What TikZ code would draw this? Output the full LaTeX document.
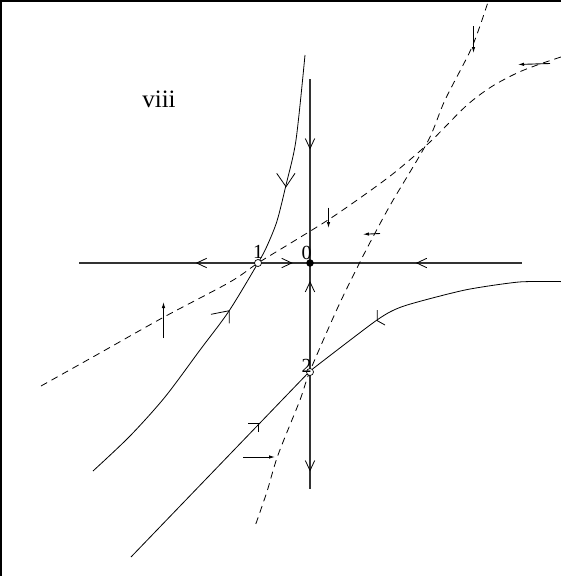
\documentclass[tikz,border=0pt]{standalone}
\usepackage{fontspec}
\setmainfont{Liberation Serif}
\usetikzlibrary{arrows.meta}
\begin{document}
\begin{tikzpicture}[x=1pt,y=-1pt,
  axis/.style={line width=1.1pt, black!80},
  traj/.style={line width=0.8pt},
  iso/.style={line width=0.8pt, dash pattern=on 7pt off 5pt},
  barb/.style={line width=0.8pt},
  flow/.style={line width=0.9pt, -{Latex[length=6pt,width=3.5pt]}},
  lab/.style={inner sep=0pt, anchor=base, font=\fontsize{20}{20}\selectfont},
  openpt/.style={circle, draw, fill=white, line width=0.7pt, minimum size=7pt, inner sep=0pt},
  fullpt/.style={circle, fill=black, minimum size=7.5pt, inner sep=0pt}]
\useasboundingbox (0,0) rectangle (561,576);
\fill[white] (0,0) rectangle (561,576);
\fill[black] (0,0) rectangle (2,576);
\fill[black] (0,0) rectangle (561,2);

% axes
\coordinate (hl) at (79,263);
\coordinate (hr) at (521.5,263);
\coordinate (vt) at (310,79);
\coordinate (vb) at (310,489);
\draw[axis] (hl) -- (hr);
\draw[axis] (vt) -- (vb);

% axis arrowheads
\draw[barb] (206.7,258.3) -- (196.7,263) -- (206.7,267.7);
\draw[barb] (281.7,258.3) -- (291.7,263) -- (281.7,267.7);
\draw[barb] (426.8,258.3) -- (416.8,263) -- (426.8,267.7);
\draw[barb] (305.3,138.5) -- (310,148.5) -- (314.7,138.5);
\draw[barb] (305.3,292) -- (310,282) -- (314.7,292);
\draw[barb] (305.3,460.5) -- (310,470.5) -- (314.7,460.5);

% dashed curves
\draw[iso] plot[smooth] coordinates {(41,386) (100,353) (164,317) (230,282) (258,263) (290,243.5) (328,220) (360,198) (394,173) (430,142) (466,106) (491,87) (517,73) (540,64) (561,57)};
\draw[iso] plot[smooth] coordinates {(255.8,524) (267,491.5) (278,455) (300,400) (310,371) (338,307) (360,262) (374,235) (392,202) (428,141) (445,100) (472,47) (488,2)};

% solid trajectories
\draw[traj] plot[smooth] coordinates {(305,55) (296,140) (286,185) (277,221) (267,246) (258,263) (229,311) (200,350) (165,397) (130,436) (93,471)};
\draw[traj] (131,557) -- (310,371);
\draw[traj] plot[smooth, tension=0.4] coordinates {(310,371) (377,320) (404,306) (465,290) (519,282) (561,281.6)};

% trajectory arrowheads
\draw[barb] (276.7,173.3) -- (286,186.7) -- (295,173.3);
\draw[barb] (211,314.3) -- (229.3,310.7) -- (229.3,323.3);
\draw[barb] (248.3,423.3) -- (258.3,423.3) -- (258.3,432.3);
\draw[barb] (377.3,310) -- (377.3,320.7) -- (385,325);

% small direction arrows
\draw[flow] (163.5,338) -- (163.5,302);
\draw[flow] (328.5,207.5) -- (328.5,228);
\draw[flow] (550,63.5) -- (518,64.5);
\draw[flow] (473.5,26) -- (473.5,53);
\draw[flow] (243,457) -- (275,457);
\draw[flow] (380,233.5) -- (363,234.3);

% equilibrium points
\node[fullpt] (p0) at (310,263) {};
\node[openpt] (p1) at (258,263) {};
\node[openpt] (p2) at (310,372) {};

% labels
\node[lab] (l1) at (258,258) {1};
\node[lab] (l0) at (306.7,259) {0};
\node[lab] (l2) at (306.5,372) {2};
\node[inner sep=0pt, anchor=base, font=\fontsize{25}{25}\selectfont] (title) at (159,107) {viii};
\end{tikzpicture}
\end{document}
